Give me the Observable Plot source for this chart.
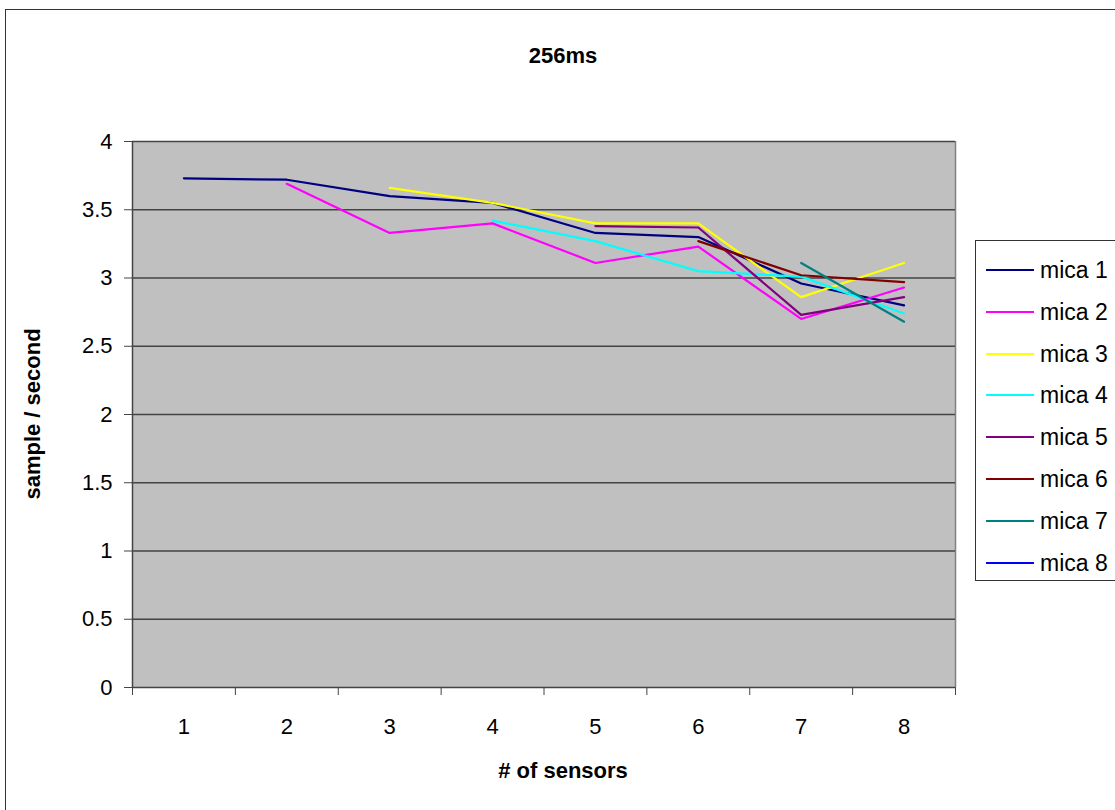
<!DOCTYPE html>
<html><head><meta charset="utf-8">
<script src="https://cdn.jsdelivr.net/npm/d3@7"></script>
<script src="https://cdn.jsdelivr.net/npm/@observablehq/plot@0.6"></script>
<style>
body{margin:0;background:#fff;font-family:"Liberation Sans",Arial,sans-serif;}
#wrap{position:relative;width:1115px;height:810px;overflow:hidden;background:#fff;}
#wrap svg{position:absolute;left:0;top:0;}
#border{position:absolute;left:5px;top:9px;width:1130px;height:830px;border:1.5px solid #333;box-sizing:border-box;}
.lbl{position:absolute;font-weight:bold;color:#000;white-space:nowrap;}
#title{left:0;width:1126px;top:43px;text-align:center;font-size:22px;}
#xlab{left:0;width:1126px;top:758px;text-align:center;font-size:22px;}
#ylab{left:33px;top:414px;font-size:22px;transform:translate(-50%,-50%) rotate(-90deg);}
#legend{position:absolute;left:975px;top:240px;width:200px;height:341px;border:1.5px solid #333;box-sizing:border-box;background:#fff;}
.lg{position:absolute;left:0;height:24px;}
.lg .sw{position:absolute;left:10px;top:11px;width:48px;height:2px;}
.lg .tx{position:absolute;left:64px;top:0;font-size:23px;line-height:24px;color:#000;white-space:nowrap;}
</style>
</head><body>
<div id="wrap">
  <div id="border"></div>
</div>
<script>
const sensors = [1, 2, 3, 4, 5, 6, 7, 8];
const series = ["mica 1", "mica 2", "mica 3", "mica 4", "mica 5", "mica 6", "mica 7", "mica 8"];
const colors = ["#000080", "#FF00FF", "#FFFF00", "#00FFFF", "#800080", "#800000", "#008080", "#0000FF"];
const mica1 = [3.73, 3.72, 3.60, 3.55, 3.33, 3.30, 2.96, 2.80];
const mica2 = [null, 3.69, 3.33, 3.40, 3.11, 3.23, 2.70, 2.93];
const mica3 = [null, null, 3.66, 3.55, 3.40, 3.40, 2.86, 3.11];
const mica4 = [null, null, null, 3.42, 3.27, 3.05, 3.01, 2.74];
const mica5 = [null, null, null, null, 3.38, 3.37, 2.73, 2.86];
const mica6 = [null, null, null, null, null, 3.27, 3.02, 2.97];
const mica7 = [null, null, null, null, null, null, 3.11, 2.68];
const mica8 = [null, null, null, null, null, null, null, null];
const yTicks = [0, 0.5, 1, 1.5, 2, 2.5, 3, 3.5, 4];
const title = "256ms";
const xLabel = "# of sensors";
const yLabel = "sample / second";

const allValues = [mica1, mica2, mica3, mica4, mica5, mica6, mica7, mica8];
const rows = [];
allValues.forEach((vals, i) => {
  vals.forEach((v, j) => {
    if (v != null) rows.push({series: series[i], x: sensors[j], y: v});
  });
});
const bounds = [sensors[0] - 0.5, ...sensors.map(s => s + 0.5)];

const chart = Plot.plot({
  width: 1115,
  height: 810,
  marginLeft: 132,
  marginRight: 160,
  marginTop: 141,
  marginBottom: 123,
  style: {fontFamily: "'Liberation Sans', Arial, sans-serif", background: "transparent", color: "#000"},
  x: {domain: [bounds[0], bounds[bounds.length - 1]], label: null},
  y: {domain: [0, 4], label: null},
  color: {type: "ordinal", domain: series, range: colors},
  marks: [
    Plot.frame({fill: "#C0C0C0"}),
    Plot.ruleX([bounds[bounds.length - 1]], {stroke: "#808080", strokeWidth: 1.5}),
    Plot.ruleY(yTicks, {stroke: "#444", strokeWidth: 1.5}),
    Plot.ruleX([bounds[0]], {stroke: "#444", strokeWidth: 1.5}),
    Plot.axisY({ticks: yTicks, tickSize: 8, tickPadding: 12, fontSize: 22, stroke: "#444", tickFormat: d => String(d), label: null}),
    Plot.axisX({ticks: bounds, tickSize: 8, stroke: "#444", tickFormat: () => "", label: null}),
    Plot.axisX({ticks: sensors, tickSize: 0, tickPadding: 31, fontSize: 22, tickFormat: d => String(d), label: null}),
    Plot.line(rows, {x: "x", y: "y", z: "series", stroke: "series", strokeWidth: 2.2})
  ]
});
const wrap = document.getElementById("wrap");
wrap.appendChild(chart);

function addLabel(id, text) {
  const d = document.createElement("div");
  d.className = "lbl"; d.id = id; d.textContent = text;
  wrap.appendChild(d);
}
addLabel("title", title);
addLabel("xlab", xLabel);
addLabel("ylab", yLabel);

const legend = document.createElement("div");
legend.id = "legend";
series.forEach((s, i) => {
  const e = document.createElement("div");
  e.className = "lg";
  e.style.top = (17 + i * 41.8) + "px";
  const sw = document.createElement("div");
  sw.className = "sw"; sw.style.background = colors[i];
  const tx = document.createElement("div");
  tx.className = "tx"; tx.textContent = s;
  e.appendChild(sw); e.appendChild(tx);
  legend.appendChild(e);
});
wrap.appendChild(legend);
</script>
</body></html>
